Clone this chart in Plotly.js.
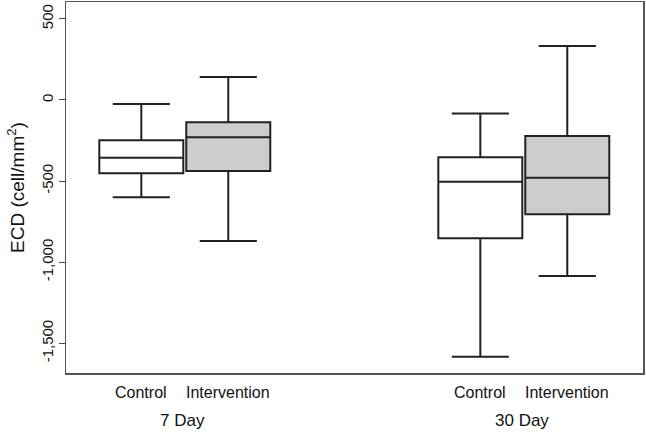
<!DOCTYPE html>
<html>
<head>
<meta charset="utf-8">
<script src="https://cdn.plot.ly/plotly-3.0.1.min.js"></script>
<style>html,body{margin:0;padding:0;background:#fff;}#chart{width:646px;height:432px;}</style>
</head>
<body>
<div id="chart"></div>
<script>
// Categories
const groups = ['7 Day', '30 Day'];
const arms = ['Control', 'Intervention'];

// Control series (per group)
const controlUpper = [-25, -84];
const controlQ3 = [-248, -353];
const controlMedian = [-356, -504];
const controlQ1 = [-452, -853];
const controlLower = [-600, -1583];

// Intervention series (per group)
const interventionUpper = [142, 333];
const interventionQ3 = [-138, -222];
const interventionMedian = [-230, -479];
const interventionQ1 = [-438, -705];
const interventionLower = [-869, -1085];

// Y tick labels
const yTickVals = [500, 0, -500, -1000, -1500];
const yTickText = ['500', '0', '-500', '-1,000', '-1,500'];

const BOXGAP = 0.487;
const BOXGROUPGAP = 0.034;
const slot = (1 - BOXGAP) / 2;

const lineCol = '#222222';
const fnt = 'Liberation Sans, Arial, sans-serif';

const traces = [
  {
    type: 'box', name: arms[0], x: groups,
    q1: controlQ1, median: controlMedian, q3: controlQ3,
    lowerfence: controlLower, upperfence: controlUpper,
    fillcolor: '#ffffff', line: {color: lineCol, width: 2},
    whiskerwidth: 0.68, boxpoints: false
  },
  {
    type: 'box', name: arms[1], x: groups,
    q1: interventionQ1, median: interventionMedian, q3: interventionQ3,
    lowerfence: interventionLower, upperfence: interventionUpper,
    fillcolor: '#cdcdcd', line: {color: lineCol, width: 2},
    whiskerwidth: 0.68, boxpoints: false
  }
];

const annotations = [];
groups.forEach((g, gi) => {
  arms.forEach((a, ai) => {
    annotations.push({
      xref: 'x', yref: 'paper', x: gi + (ai === 0 ? -slot / 2 : slot / 2), y: -0.052,
      text: a, showarrow: false, xanchor: 'center', yanchor: 'middle',
      font: {family: fnt, size: 16, color: '#111'}
    });
  });
  annotations.push({
    xref: 'x', yref: 'paper', x: gi - 0.006, y: -0.127,
    text: g, showarrow: false, xanchor: 'center', yanchor: 'middle',
    font: {family: fnt, size: 17, color: '#111'}
  });
});

const layout = {
  width: 646, height: 432,
  margin: {l: 66, r: 3, t: 2, b: 59},
  paper_bgcolor: '#ffffff', plot_bgcolor: '#ffffff',
  showlegend: false,
  boxmode: 'group', boxgap: BOXGAP, boxgroupgap: BOXGROUPGAP,
  xaxis: {
    type: 'category', range: [-0.3504, 1.3516],
    showticklabels: false, ticks: '', showgrid: false, zeroline: false,
    showline: true, linecolor: '#555', linewidth: 1.5, mirror: true
  },
  yaxis: {
    range: [-1683, 604],
    tickvals: yTickVals, ticktext: yTickText, tickangle: -90,
    ticks: 'outside', ticklen: 6, tickcolor: '#444', tickwidth: 1,
    tickfont: {family: fnt, size: 15, color: '#111'},
    showgrid: false, zeroline: false,
    showline: true, linecolor: '#555', linewidth: 1.5, mirror: true,
    title: {text: 'ECD (cell/mm<sup>2</sup>)', font: {family: fnt, size: 19, color: '#111'}, standoff: 9}
  },
  annotations: annotations
};

Plotly.newPlot('chart', traces, layout, {displayModeBar: false, staticPlot: true});
</script>
</body>
</html>
